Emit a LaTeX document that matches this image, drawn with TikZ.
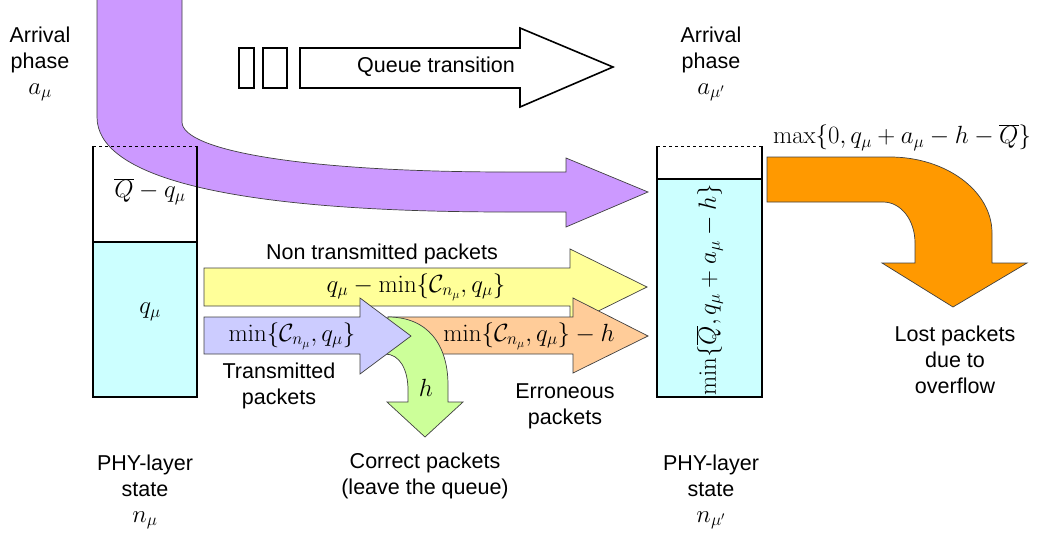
\documentclass[tikz,border=0pt]{standalone}
\usepackage[no-math]{fontspec}
\setmainfont{Liberation Sans}
\definecolor{purpleA}{RGB}{204,153,255}
\definecolor{cyanQ}{RGB}{204,255,255}
\definecolor{yellowA}{RGB}{255,255,153}
\definecolor{blueA}{RGB}{204,204,255}
\definecolor{peachA}{RGB}{255,204,153}
\definecolor{greenA}{RGB}{204,255,153}
\definecolor{orangeA}{RGB}{255,153,0}
\newcommand{\mathsz}{\fontsize{24.5}{26}\selectfont}
\tikzset{
  lbl/.style={font=\fontsize{21.5}{26}\selectfont, align=center, inner sep=0pt},
  mth/.style={font=\fontsize{24.5}{29}\selectfont, inner sep=0pt},
  flow/.style={draw=black!75, line width=0.7pt, line join=miter},
  qline/.style={line width=1.8pt, draw=black},
  qdash/.style={dashed, line width=0.6pt, draw=black},
  tbox/.style={line width=1.6pt, draw=black, line join=miter},
}
\begin{document}
\begin{tikzpicture}[x=1pt,y=-1pt]
\useasboundingbox (0,0) rectangle (1044,536);

% purple arrival arrow
\path[flow, fill=purpleA] (97,-3) -- (97,117) .. controls (97,175) and (220,212) .. (510,212)
  -- (566,212) -- (566,227) -- (648,192) -- (566,158) -- (566,172) -- (510,172)
  .. controls (300,172) and (182,150) .. (182,122) -- (182,-3) -- cycle;

% left queue
\fill[cyanQ] (93,242) rectangle (197,397);
\draw[qline] (93,146) -- (93,397) -- (197,397) -- (197,146);
\draw[qline] (93,242) -- (197,242);
\draw[qdash] (93,146) -- (197,146);

% right queue
\fill[cyanQ] (657,179) rectangle (762,397);
\draw[qline] (657,146) -- (657,397) -- (762,397) -- (762,146);
\draw[qline] (657,179) -- (762,179);
\draw[qdash] (657,146) -- (762,146);

% queue transition arrow
\draw[tbox] (239,48) rectangle (254,88);
\draw[tbox] (263,48) rectangle (287,88);
\draw[tbox] (300,48) -- (520,48) -- (520,28) -- (613,67) -- (520,107) -- (520,88) -- (300,88) -- cycle;

% middle arrows
\path[flow, fill=yellowA] (204,268) -- (570,268) -- (570,249) -- (647,287) -- (570,325) -- (570,306) -- (204,306) -- cycle;
\path[flow, fill=peachA] (388,317) -- (573,317) -- (573,298) -- (648,336) -- (573,373) -- (573,354) -- (388,354) -- cycle;
\path[flow, fill=greenA] (388,317) .. controls (428,317) and (448,345) .. (448,385) -- (448,402)
  -- (463,402) -- (425,437) -- (387,402) -- (408,402) -- (408,390)
  .. controls (408,370) and (400,354) .. (385,354) -- cycle;
\path[flow, fill=blueA] (204,317) -- (360,317) -- (360,298) -- (411,336) -- (360,374) -- (360,354) -- (204,354) -- cycle;

% orange overflow arrow
\path[flow, fill=orangeA] (767,157) -- (890,157) .. controls (946,157) and (992,191) .. (992,233)
  -- (992,263) -- (1027,263) -- (953,307) -- (882,263) -- (915,263) -- (915,243)
  .. controls (915,220) and (901,202) .. (883,202) -- (767,202) -- cycle;

% labels
\node[lbl] (arrL) at (40,64) {Arrival\\phase\\{\mathsz$a_\mu$}};
\node[lbl] (arrR) at (711,64) {Arrival\\phase\\{\mathsz$a_{\mu'}$}};
\node[lbl] (qt) at (436,67) {Queue transition};
\node[mth] (qbar) at (150,192) {$\overline{Q}-q_\mu$};
\node[mth] (qmu) at (150,312) {$q_\mu$};
\node[lbl] (nontx) at (382,254) {Non transmitted packets};
\node[mth] (ytxt) at (416,287) {$q_\mu-\min\{\mathcal{C}_{n_\mu},q_\mu\}$};
\node[mth] (btxt) at (292,336) {$\min\{\mathcal{C}_{n_\mu},q_\mu\}$};
\node[mth] (ptxt) at (529,336) {$\min\{\mathcal{C}_{n_\mu},q_\mu\}-h$};
\node[mth] (htxt) at (426,388) {$h$};
\node[lbl] (tx) at (279,386) {Transmitted\\packets};
\node[lbl] (err) at (565,406) {Erroneous\\packets};
\node[lbl] (corr) at (425,476) {Correct packets\\(leave the queue)};
\node[lbl] (phyL) at (145,492) {PHY-layer\\state\\{\mathsz$n_\mu$}};
\node[lbl] (phyR) at (711,492) {PHY-layer\\state\\{\mathsz$n_{\mu'}$}};
\node[mth, rotate=90] (vtxt) at (710,290) {$\min\{\overline{Q},q_\mu+a_\mu-h\}$};
\node[mth] (maxt) at (902,138) {$\max\{0,q_\mu+a_\mu-h-\overline{Q}\}$};
\node[lbl] (lost) at (955,360) {Lost packets\\due to\\overflow};
\end{tikzpicture}
\end{document}
